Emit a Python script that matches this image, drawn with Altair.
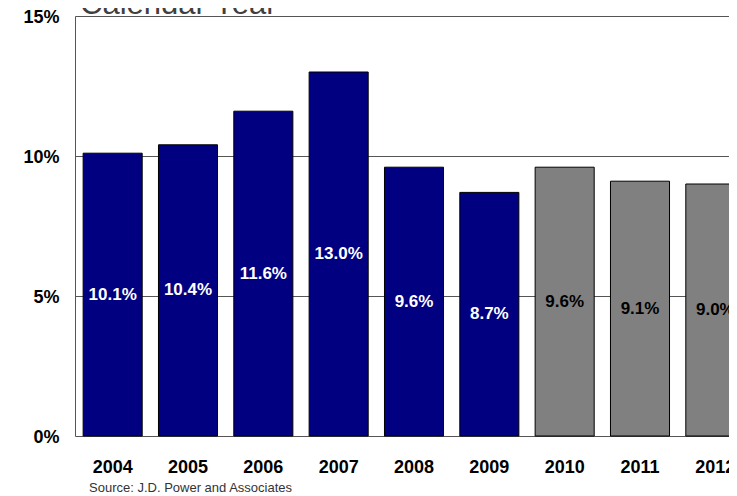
import altair as alt
import pandas as pd

years = ["2004", "2005", "2006", "2007", "2008", "2009", "2010", "2011", "2012"]
values = [10.1, 10.4, 11.6, 13.0, 9.6, 8.7, 9.6, 9.1, 9.0]
kinds = ["actual"] * 6 + ["forecast"] * 3
y_ticks = [0, 5, 10, 15]
title_text = "Calendar Year"
source_text = "Source: J.D. Power and Associates"

df = pd.DataFrame({"year": years, "value": values, "kind": kinds})
df["label"] = df["value"].map(lambda v: f"{v:.1f}%")

FONT = "Liberation Sans"

x_scale = alt.Scale(paddingInner=0.216, paddingOuter=0.108, range=[0, 678])
x_enc = alt.X("year:N", sort=years, title=None, scale=x_scale,
              axis=alt.Axis(labelAngle=0, ticks=False, domain=False, labelPadding=22,
                            labelFont=FONT, labelFontSize=18, labelFontWeight="bold",
                            labelColor="#000000", grid=False))
y_scale = alt.Scale(domain=[0, 15], nice=False)

bars = alt.Chart(df).mark_bar(stroke="#000000", strokeWidth=1).encode(
    x=x_enc,
    y=alt.Y("value:Q", scale=y_scale, title=None,
            axis=alt.Axis(values=y_ticks, labelExpr="datum.value + '%'", ticks=False,
                          labelPadding=16, labelFont=FONT, labelFontSize=18,
                          labelFontWeight="bold", labelColor="#000000", labelOffset=1,
                          grid=True, gridColor="#555555", gridWidth=1,
                          domainColor="#555555")),
    color=alt.Color("kind:N", legend=None,
                    scale=alt.Scale(domain=["actual", "forecast"], range=["#000080", "#808080"])),
)

labels = alt.Chart(df).transform_calculate(mid="datum.value / 2").mark_text(
    font=FONT, fontSize=17, fontWeight="bold", baseline="middle", align="center"
).encode(
    x=alt.X("year:N", sort=years, scale=x_scale),
    y=alt.Y("mid:Q", scale=y_scale),
    text="label:N",
    color=alt.condition("datum.kind === 'forecast'", alt.value("#000000"), alt.value("#ffffff")),
)

title_df = pd.DataFrame({"t": [title_text]})
title = alt.Chart(title_df).mark_text(
    font=FONT, fontSize=31, align="left", baseline="alphabetic", color="#404040"
).encode(x=alt.value(5), y=alt.value(-2), text="t:N")

src_df = pd.DataFrame({"t": [source_text]})
source = alt.Chart(src_df).mark_text(
    font=FONT, fontSize=13, align="left", baseline="alphabetic", color="#333333"
).encode(x=alt.value(14), y=alt.value(476), text="t:N")

chart = alt.layer(bars, labels, title, source).properties(
    width=654, height=420,
    autosize=alt.AutoSizeParams(type="none"),
    padding={"left": 67, "top": 8, "right": 0, "bottom": 56},
).configure_view(stroke=None)

chart.save("out.html", embed_options={"renderer": "svg", "actions": False})
